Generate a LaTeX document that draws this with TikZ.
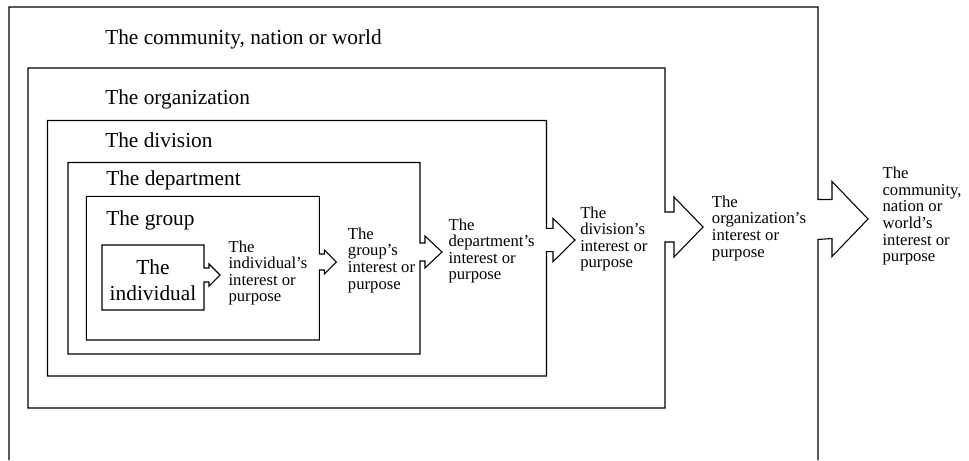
\documentclass[tikz,border=0pt]{standalone}
\usepackage{fontspec}
\setmainfont{Liberation Serif}
\begin{document}
% one unit = one pixel, y grows downward
\begin{tikzpicture}[x=0.75pt,y=-0.75pt,
  frame/.style={draw=black, line width=0.8pt, line join=miter},
  title/.style={anchor=base west, inner sep=0pt, font=\fontsize{16}{19.5}\selectfont},
  aimlabel/.style={anchor=base west, inner sep=0pt, align=left, font=\fontsize{12.5}{12.4}\selectfont}]
\useasboundingbox (0,0) rectangle (969,460);

% closed box whose right side carries an outgoing block arrow
% #1 left, #2 top, #3 right, #4 bottom, #5 arrow axis y,
% #6 shaft half height, #7 head half height, #8 shaft length, #9 head length
\newcommand\arrowbox[9]{%
  \draw[frame] (#3,#5-#6) -- (#3,#2) -- (#1,#2) -- (#1,#4) -- (#3,#4)
    -- (#3,#5+#6) -- ++(#8,0) -- ++(0,#7-#6) -- ++(#9,-#7) -- ++(-#9,-#7)
    -- ++(0,#7-#6) -- cycle;}

% outermost frame, open at the bottom
\draw[frame] (9,460) -- (9,7) -- (818,7) -- (818,199.5) -- ++(14,0) -- ++(0,-18)
  -- ++(36,37.5) -- ++(-36,37.5) -- ++(0,-18) -- (818,239.5) -- (818,460);

\arrowbox{28}{68}{665}{408}{227}{15}{30}{9}{29}
\arrowbox{47.5}{120.5}{546.5}{376}{240}{11.7}{21.7}{6.5}{22}
\arrowbox{68}{162.5}{420}{354}{252}{9}{16}{5}{17}
\arrowbox{86.3}{196.3}{319.3}{340}{262}{8}{12}{5}{12}
\arrowbox{102}{245}{204}{310}{275}{7}{11}{5}{11}

% level titles
\node[title] (tcomm) at (105,45) {The community, nation or world};
\node[title] (torg)  at (105,104.3) {The organization};
\node[title] (tdiv)  at (105,147.7) {The division};
\node[title] (tdep)  at (106,185) {The department};
\node[title] (tgrp)  at (106,225) {The group};
% multi-line nodes sit on the baseline of their last line
\node[anchor=base, inner sep=0pt, align=center, font=\fontsize{16}{19.5}\selectfont]
  (tind) at (153,300) {The\\individual};

% interests flowing outward
\node[aimlabel] (aind)  at (228.3,301.7) {The\\individual’s\\interest or\\purpose};
\node[aimlabel] (agrp)  at (347.7,289) {The\\group’s\\interest or\\purpose};
\node[aimlabel] (adep)  at (448.3,279.6) {The\\department’s\\interest or\\purpose};
\node[aimlabel] (adiv)  at (580,267.8) {The\\division’s\\interest or\\purpose};
\node[aimlabel] (aorg)  at (711.7,257) {The\\organization’s\\interest or\\purpose};
\node[aimlabel, font=\fontsize{12.5}{12.5}\selectfont]
  (acomm) at (882.3,261.7) {The\\community,\\nation or\\world’s\\interest or\\purpose};
\end{tikzpicture}
\end{document}
